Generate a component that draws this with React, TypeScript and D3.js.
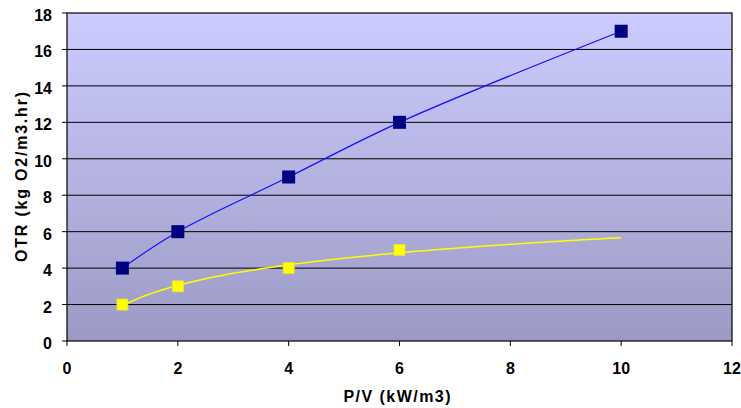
import React from "react";
import * as d3 from "d3";

const xTicks = [0, 2, 4, 6, 8, 10, 12];
const yTicks = [0, 2, 4, 6, 8, 10, 12, 14, 16, 18];
const blueX = [1, 2, 4, 6, 10];
const blueY = [4, 6, 9, 12, 17];
const yellowX = [1, 2, 4, 6];
const yellowY = [2, 3, 4, 5];
const xTitle = "P/V (kW/m3)";
const yTitle = "OTR (kg O2/m3.hr)";

function linFit(xs: number[], ys: number[]) {
  const mx = d3.mean(xs)!;
  const my = d3.mean(ys)!;
  let sxx = 0, sxy = 0;
  xs.forEach((x, i) => { sxx += (x - mx) ** 2; sxy += (x - mx) * (ys[i] - my); });
  const a = sxy / sxx;
  return { a, b: my - a * mx };
}

export default function App() {
  const W = 741, H = 408;
  const x = d3.scaleLinear().domain([0, 12]).range([67, 732]);
  const y = d3.scaleLinear().domain([0, 18]).range([341, 13]);

  // smoothed line through blue points
  const smooth = d3.line<number[]>().x(d => x(d[0])).y(d => y(d[1])).curve(d3.curveCatmullRom);
  const bluePath = smooth(blueX.map((v, i) => [v, blueY[i]]))!;
  // logarithmic trendline for yellow
  const lf = linFit(yellowX.map(Math.log), yellowY);
  const logFn = (v: number) => lf.b + lf.a * Math.log(v);
  const samples = d3.range(1, 10.001, 0.1);
  const line = d3.line<number[]>().x(d => x(d[0])).y(d => y(d[1]));
  const yellowPath = line(samples.map(v => [v, logFn(v)]))!;

  const font = "Arial, 'Liberation Sans', sans-serif";
  return (
    <svg width={W} height={H} style={{ position: "absolute", left: 0, top: 0 }}>
      <defs>
        <linearGradient id="bg" x1="0" y1="0" x2="0" y2="1">
          <stop offset="0" stopColor="#CCCCFF" />
          <stop offset="1" stopColor="#9C9AC4" />
        </linearGradient>
      </defs>
      <rect x={0} y={0} width={W} height={H} fill="#fff" />
      <rect x={x(0)} y={y(18)} width={x(12) - x(0)} height={y(0) - y(18)} fill="url(#bg)" />
      {yTicks.map(t => (
        <g key={t}>
          {t > 0 && t < 18 && (
            <line x1={x(0)} x2={x(12)} y1={y(t)} y2={y(t)} stroke="#000" strokeWidth={1} />
          )}
          <line x1={x(0) - 5} x2={x(0)} y1={y(t)} y2={y(t)} stroke="#000" />
          <text x={x(0) - 15} y={y(t) + 8} textAnchor="end" fontFamily={font}
            fontWeight="bold" fontSize={16}>{t}</text>
        </g>
      ))}
      {xTicks.map(t => (
        <g key={t}>
          <line x1={x(t)} x2={x(t)} y1={y(0)} y2={y(0) + 5} stroke="#000" />
          <text x={x(t)} y={373.5} textAnchor="middle" fontFamily={font}
            fontWeight="bold" fontSize={16}>{t}</text>
        </g>
      ))}
      <rect x={x(0)} y={y(18)} width={x(12) - x(0)} height={y(0) - y(18)} fill="none" stroke="#000" strokeWidth={1.2} />
      <path d={bluePath} fill="none" stroke="#1010FF" strokeWidth={1.2} />
      <path d={yellowPath} fill="none" stroke="#FFFF00" strokeWidth={1.5} />
      {blueX.map((v, i) => (
        <rect key={"b" + i} x={x(v) - 6.5} y={y(blueY[i]) - 6.5} width={13} height={13} fill="#000080" />
      ))}
      {yellowX.map((v, i) => (
        <rect key={"y" + i} x={x(v) - 5.5} y={y(yellowY[i]) - 5.5} width={11} height={11} fill="#FFFF00" stroke="#E8E040" strokeWidth={0.8} />
      ))}
      <text x={397} y={402} textAnchor="middle" fontFamily={font} fontWeight="bold" fontSize={16}
        textLength={107} lengthAdjust="spacing">{xTitle}</text>
      <text transform={`translate(27,177) rotate(-90)`} textAnchor="middle" fontFamily={font}
        fontWeight="bold" fontSize={16} textLength={170} lengthAdjust="spacing">{yTitle}</text>
    </svg>
  );
}
